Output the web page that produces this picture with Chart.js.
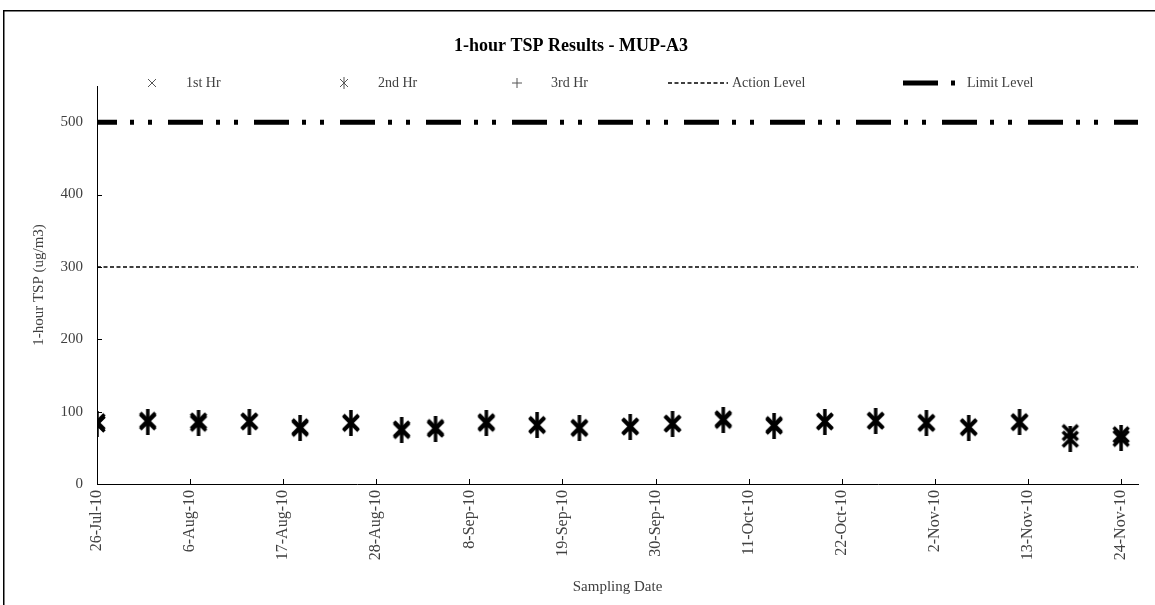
<!DOCTYPE html>
<html>
<head>
<meta charset="utf-8">
<script src="https://cdn.jsdelivr.net/npm/chart.js@4/dist/chart.umd.min.js"></script>
<style>
  html, body { margin: 0; padding: 0; background: #ffffff; }
  #wrap { width: 1155px; height: 605px; }
</style>
</head>
<body>
<div id="wrap"><canvas id="c" width="1155" height="605"></canvas></div>
<script>
// Sampling dates and 1-hour TSP results (ug/m3)
const sampleDates = ['2010-07-26', '2010-08-01', '2010-08-07', '2010-08-13', '2010-08-19', '2010-08-25',
  '2010-08-31', '2010-09-04', '2010-09-10', '2010-09-16', '2010-09-21', '2010-09-27', '2010-10-02',
  '2010-10-08', '2010-10-14', '2010-10-20', '2010-10-26', '2010-11-01', '2010-11-06', '2010-11-12',
  '2010-11-18', '2010-11-24'];
const hr1 = [86, 88, 87, 87, 79, 85, 76, 78, 86, 82, 78, 80, 84, 90, 82, 87, 88, 85, 79, 86, 71, 68];
const hr2 = [83, 86, 84, 86, 77, 84, 74, 76, 84, 81, 77, 79, 83, 88, 80, 86, 87, 84, 78, 85, 62, 63];
const hr3 = [];
const actionLevel = 300;
const limitLevel = 500;

// Date axis: start, end and labelled ticks every 11 days
const axisStart = '2010-07-26';
const axisEnd = '2010-11-26';
const tickStepDays = 11;
const tickLabels = ['26-Jul-10', '6-Aug-10', '17-Aug-10', '28-Aug-10', '8-Sep-10', '19-Sep-10',
  '30-Sep-10', '11-Oct-10', '22-Oct-10', '2-Nov-10', '13-Nov-10', '24-Nov-10'];
const yTickValues = [0, 100, 200, 300, 400, 500];
const yMax = 550;

const seriesNames = ['1st Hr', '2nd Hr', '3rd Hr', 'Action Level', 'Limit Level'];

const DAY = 86400000;
const toDay = s => (Date.parse(s + 'T00:00:00Z') - Date.parse(axisStart + 'T00:00:00Z')) / DAY;
const xMax = toDay(axisEnd);
const pts = vals => vals.map((v, i) => ({ x: toDay(sampleDates[i]), y: v }));

const FONT = "'Liberation Serif', 'DejaVu Serif', serif";
const TEXT = '#404040';

// Marker glyphs drawn on small canvases
function glyph(w, h, lw, color, paths) {
  const c = document.createElement('canvas');
  c.width = w; c.height = h;
  const g = c.getContext('2d');
  g.strokeStyle = color; g.lineWidth = lw; g.lineCap = 'butt';
  g.beginPath();
  paths.forEach(p => { g.moveTo(p[0], p[1]); g.lineTo(p[2], p[3]); });
  g.stroke();
  return c;
}
function crossX(s, lw, color) {
  const m = lw;
  return glyph(s, s, lw, color, [[m, m, s - m, s - m], [s - m, m, m, s - m]]);
}
function asterisk(s, h, lw, color) {
  const m = lw, t = (h - s) / 2;
  return glyph(s, h, lw, color, [[m, t + m, s - m, t + s - m], [s - m, t + m, m, t + s - m], [s / 2, 0, s / 2, h]]);
}
function plus(s, lw, color) {
  return glyph(s, s, lw, color, [[s / 2, 0, s / 2, s], [0, s / 2, s, s / 2]]);
}

const mark1 = crossX(22, 3.5, '#000');
const mark2 = asterisk(22, 26, 3.5, '#000');
const mark3 = plus(22, 3, '#000');
const legend1 = crossX(10, 1, '#555');
const legend2 = asterisk(10, 12, 1, '#555');
const legend3 = plus(10, 1, '#555');

const limitDash = [35, 13, 4, 14, 4, 16];
const actionDash = [4, 2.5];

// Page frame and white background
const framePlugin = {
  id: 'frame',
  beforeDraw(chart) {
    const ctx = chart.ctx;
    ctx.save();
    ctx.fillStyle = '#fff';
    ctx.fillRect(0, 0, chart.width, chart.height);
    ctx.restore();
  },
  afterDraw(chart) {
    const ctx = chart.ctx;
    ctx.save();
    ctx.strokeStyle = '#000';
    ctx.lineWidth = 1.5;
    ctx.strokeRect(3.75, 10.75, chart.width + 20, chart.height + 20);
    ctx.restore();
  }
};

// Short tick marks pointing into the plot area
const innerTicks = {
  id: 'innerTicks',
  afterDatasetsDraw(chart) {
    const { ctx, chartArea: a, scales: { x, y } } = chart;
    ctx.save();
    ctx.strokeStyle = '#000';
    ctx.lineWidth = 1;
    ctx.beginPath();
    x.ticks.forEach(t => {
      const px = Math.round(x.getPixelForValue(t.value)) + 0.5;
      ctx.moveTo(px, a.bottom); ctx.lineTo(px, a.bottom - 5);
    });
    y.ticks.forEach(t => {
      const py = Math.round(y.getPixelForValue(t.value)) + 0.5;
      ctx.moveTo(a.left, py); ctx.lineTo(a.left + 5, py);
    });
    ctx.stroke();
    ctx.restore();
  }
};

// Legend row across the top of the plot
const legendSlots = [122, 314, 487, 668, 903];
const legendRow = {
  id: 'legendRow',
  afterDraw(chart) {
    const ctx = chart.ctx;
    const yMid = 83;
    const sym = [legend1, legend2, legend3];
    ctx.save();
    ctx.font = '14px ' + FONT;
    ctx.fillStyle = TEXT;
    ctx.textBaseline = 'middle';
    seriesNames.forEach((name, i) => {
      const x0 = legendSlots[i];
      if (i < 3) {
        const g = sym[i];
        ctx.drawImage(g, Math.round(x0 + 30 - g.width / 2), Math.round(yMid - g.height / 2));
      } else if (i === 3) {
        ctx.save();
        ctx.strokeStyle = '#000'; ctx.lineWidth = 1.5; ctx.setLineDash(actionDash);
        ctx.beginPath(); ctx.moveTo(x0, yMid); ctx.lineTo(x0 + 60, yMid); ctx.stroke();
        ctx.restore();
      } else {
        ctx.save();
        ctx.strokeStyle = '#000'; ctx.lineWidth = 5; ctx.lineCap = 'butt'; ctx.setLineDash(limitDash);
        ctx.beginPath(); ctx.moveTo(x0, yMid); ctx.lineTo(x0 + 60, yMid); ctx.stroke();
        ctx.restore();
      }
      ctx.fillText(name, x0 + 64, yMid);
    });
    ctx.restore();
  }
};

new Chart(document.getElementById('c'), {
  type: 'scatter',
  data: {
    datasets: [
      { label: seriesNames[0], data: pts(hr1), pointStyle: mark1, pointRadius: 10, pointHoverRadius: 10 },
      { label: seriesNames[1], data: pts(hr2), pointStyle: mark2, pointRadius: 10, pointHoverRadius: 10 },
      { label: seriesNames[2], data: pts(hr3), pointStyle: mark3, pointRadius: 10, pointHoverRadius: 10 },
      {
        type: 'line', label: seriesNames[3],
        data: [{ x: 0, y: actionLevel }, { x: xMax, y: actionLevel }],
        borderColor: '#000', borderWidth: 1.5, borderDash: actionDash,
        pointRadius: 0, fill: false
      },
      {
        type: 'line', label: seriesNames[4],
        data: [{ x: 0, y: limitLevel }, { x: xMax, y: limitLevel }],
        borderColor: '#000', borderWidth: 5, borderDash: limitDash, borderDashOffset: 15,
        borderCapStyle: 'butt', pointRadius: 0, fill: false
      }
    ]
  },
  options: {
    responsive: false,
    animation: false,
    devicePixelRatio: 1,
    layout: { padding: { left: 4, top: 11, right: 17, bottom: 0 } },
    plugins: {
      legend: { display: false },
      tooltip: { enabled: false },
      title: {
        display: true,
        text: '1-hour TSP Results - MUP-A3',
        color: '#000',
        font: { family: FONT, size: 18, weight: 'bold' },
        padding: { top: 25, bottom: 28.4 }
      }
    },
    scales: {
      x: {
        type: 'linear',
        min: 0,
        max: xMax,
        afterFit(s) { s.height = 121; },
        afterBuildTicks(s) {
          s.ticks = tickLabels.map((_, i) => ({ value: i * tickStepDays }));
        },
        ticks: {
          autoSkip: false,
          maxRotation: 90,
          minRotation: 90,
          padding: 6,
          color: TEXT,
          font: { family: FONT, size: 16 },
          callback: v => tickLabels[Math.round(v / tickStepDays)]
        },
        grid: { display: false, drawTicks: false },
        border: { display: true, color: '#000', width: 1 },
        title: {
          display: true,
          text: 'Sampling Date',
          color: TEXT,
          font: { family: FONT, size: 15 },
          padding: { top: 0, bottom: 9 }
        }
      },
      y: {
        min: 0,
        max: yMax,
        afterFit(s) { s.width = 93; },
        afterBuildTicks(s) {
          s.ticks = yTickValues.map(v => ({ value: v }));
        },
        ticks: {
          padding: 14,
          color: TEXT,
          font: { family: FONT, size: 15 }
        },
        grid: { display: false, drawTicks: false },
        border: { display: true, color: '#000', width: 1 },
        title: {
          display: true,
          text: '1-hour TSP (ug/m3)',
          color: TEXT,
          font: { family: FONT, size: 15 },
          padding: { top: 26, bottom: 0 }
        }
      }
    }
  },
  plugins: [framePlugin, innerTicks, legendRow]
});
</script>
</body>
</html>
